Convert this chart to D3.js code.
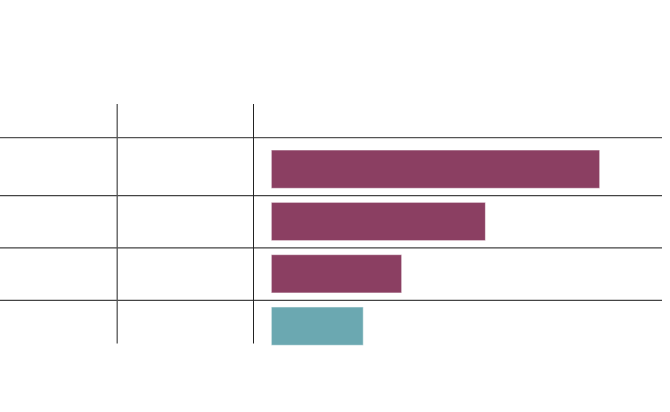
<!DOCTYPE html>
<html>
<head>
<meta charset="utf-8">
<script src="https://cdn.jsdelivr.net/npm/d3@7"></script>
<style>
  html, body { margin: 0; padding: 0; background: #fff; }
  svg { display: block; }
</style>
</head>
<body>
<svg id="chart" width="670" height="412"></svg>
<script>
// Data (no labels are shown in the reference; categories are placeholders)
const categories = ["A", "B", "C", "D"];
const values = [100, 65.2, 39.7, 28.0];
const highlight = [false, false, false, true];

const colors = { main: "#8B3F62", alt: "#6BA8B1", rule: "#3a3a3a" };

const svg = d3.select("#chart");

const x = d3.scaleLinear().domain([0, 100]).range([271.3, 599.7]);
const y = d3.scaleBand().domain(categories)
  .range([143, 352.3]).paddingInner(0.268).paddingOuter(0.134);

const step = y.step();

// Table rules
const rules = svg.append("g").attr("stroke", colors.rule).attr("stroke-width", 1);
// header rule
rules.append("line").attr("x1", 0).attr("x2", 662)
  .attr("y1", 137.7).attr("y2", 137.7).attr("stroke", "#555").attr("stroke-width", 1.3);
// row separators
categories.slice(1).forEach(c => {
  const yy = y(c) - step * y.paddingInner() / 2 + 0.3;
  rules.append("line").attr("x1", 0).attr("x2", 662)
    .attr("y1", yy).attr("y2", yy).attr("stroke", "#444").attr("stroke-width", 1.2);
});
// column dividers
rules.append("line").attr("x1", 117.2).attr("x2", 117.2)
  .attr("y1", 104).attr("y2", 343.5).attr("stroke", "#555").attr("stroke-width", 1.3);
rules.append("line").attr("x1", 253.5).attr("x2", 253.5)
  .attr("y1", 104).attr("y2", 343.5).attr("stroke", "#222").attr("stroke-width", 1);

// Bars
svg.append("g").selectAll("rect")
  .data(categories.map((c, i) => ({ c, v: values[i], h: highlight[i] })))
  .join("rect")
  .attr("x", x(0))
  .attr("y", d => y(d.c))
  .attr("width", d => x(d.v) - x(0))
  .attr("height", y.bandwidth())
  .attr("fill", d => d.h ? colors.alt : colors.main)
  .attr("stroke", "#fff")
  .attr("stroke-opacity", 0.55)
  .attr("stroke-width", 1);
</script>
</body>
</html>
